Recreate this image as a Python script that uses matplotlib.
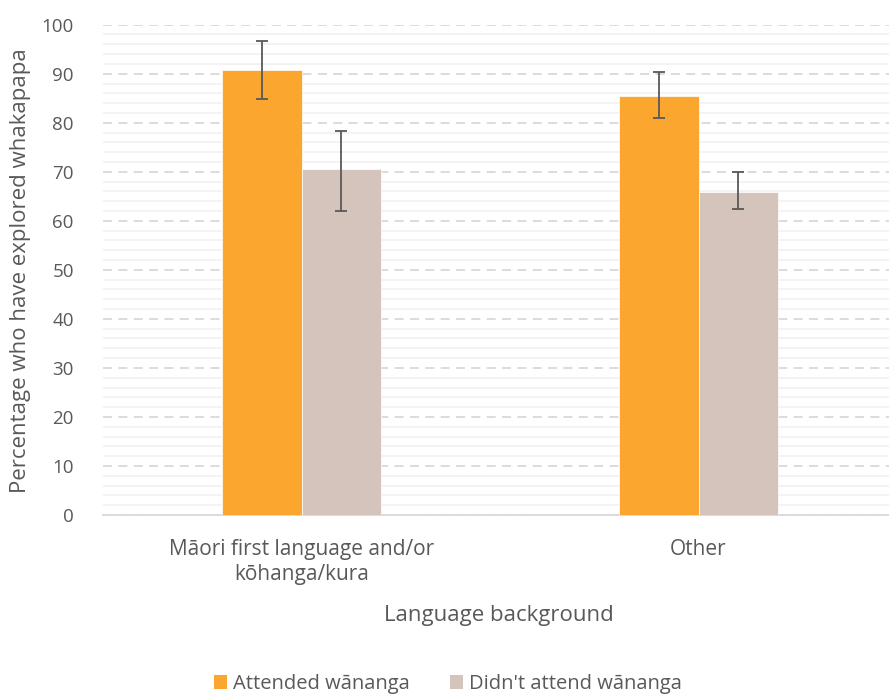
import matplotlib
matplotlib.use('Agg')
import matplotlib.pyplot as plt
from matplotlib.patches import Patch
import numpy as np

plt.rcParams['font.family'] = ['Open Sans', 'DejaVu Sans']

# data
categories = ["Māori first language and/or\nkōhanga/kura", "Other"]
series = ["Attended wānanga", "Didn't attend wānanga"]
attended = [90.8, 85.4]
attended_lo = [84.9, 80.9]
attended_hi = [96.7, 90.3]
not_attended = [70.5, 65.9]
not_attended_lo = [62.1, 62.5]
not_attended_hi = [78.4, 69.9]

ORANGE = "#FBA62E"
TAUPE = "#D5C4BC"
GREY = "#595959"

fig = plt.figure(figsize=(8.89, 6.95), dpi=100)
ax = fig.add_axes([103 / 889, 0.259, 794 / 889, 0.7055])

x = np.arange(len(categories))
w = 0.2
for vals, lo, hi, col, off in [
    (attended, attended_lo, attended_hi, ORANGE, -w / 2),
    (not_attended, not_attended_lo, not_attended_hi, TAUPE, w / 2),
]:
    vals = np.array(vals)
    yerr = [vals - np.array(lo), np.array(hi) - vals]
    ax.bar(x + off, vals, width=w, color=col, edgecolor="white", linewidth=0.5, zorder=3)
    ax.errorbar(x + off, vals, yerr=yerr, fmt="none", ecolor=GREY,
                elinewidth=1.3, capsize=4.5, capthick=1.3, zorder=4)

ax.set_xlim(-0.5, 1.5)
ax.set_ylim(0, 100)
ax.set_yticks(np.arange(0, 101, 10))
ax.set_yticks(np.arange(0, 101, 2), minor=True)
ax.grid(axis="y", which="minor", color="#F2F2F2", linewidth=1.3, zorder=0)
ax.grid(axis="y", which="major", color="#D9D9D9", linewidth=1.3,
        linestyle=(0, (5, 3.5)), zorder=1)
ax.set_axisbelow(True)

ax.set_xticks(x)
ax.set_xticklabels(categories, fontsize=15, color=GREY, linespacing=1.3)
ax.tick_params(axis="both", which="both", length=0)
ax.tick_params(axis="y", labelsize=13.5, labelcolor=GREY, pad=21)
ax.tick_params(axis="x", labelcolor=GREY, pad=17)

for s in ["top", "right", "left"]:
    ax.spines[s].set_visible(False)
ax.spines["bottom"].set_color("#D9D9D9")
ax.spines["bottom"].set_linewidth(1.3)

fig.text(21 / 889, 1 - 271 / 695, "Percentage who have explored whakapapa", rotation=90,
         ha="center", va="center", fontsize=16, color=GREY)
fig.text(499 / 889, 1 - 615 / 695, "Language background", ha="center", va="center",
         fontsize=16, color=GREY)

handles = [Patch(facecolor=ORANGE), Patch(facecolor=TAUPE)]
fig.legend(handles, series, loc="center", bbox_to_anchor=(448 / 889, 1 - 684 / 695),
           ncol=2, frameon=False, fontsize=14.5, labelcolor=GREY,
           handlelength=0.65, handleheight=0.65, handletextpad=0.3, columnspacing=2.0)

fig.savefig("out.png", dpi=100, facecolor="white")
